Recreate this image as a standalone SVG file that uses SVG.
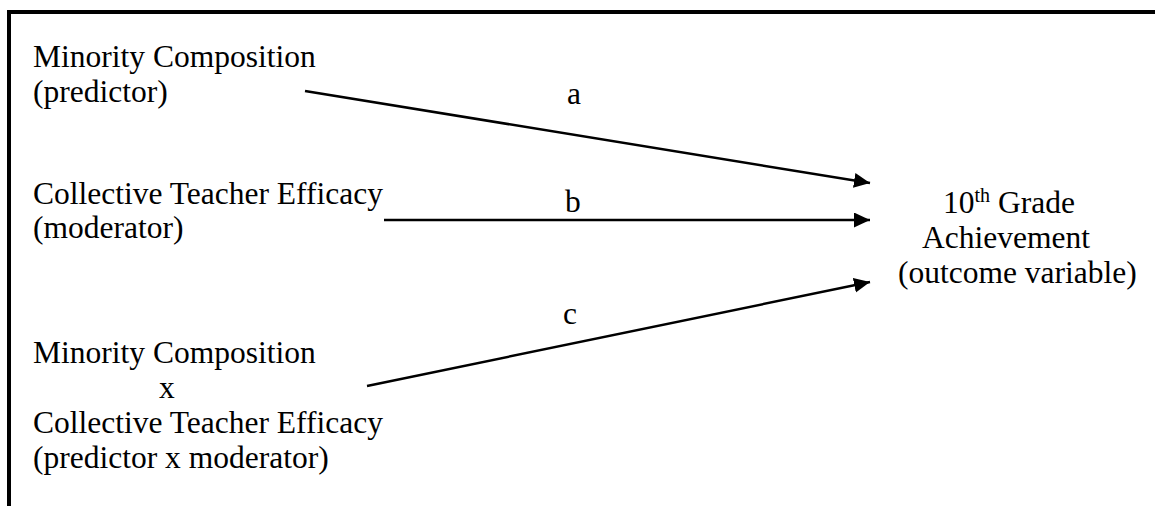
<svg xmlns="http://www.w3.org/2000/svg" width="1155" height="506" viewBox="0 0 1155 506">
<defs>
<style>
text{font-family:"Liberation Serif","Times New Roman",serif;font-size:31.5px;fill:#000}
.ln{stroke:#000;stroke-width:2.5;fill:none}
</style>
<marker id="ah" markerUnits="userSpaceOnUse" markerWidth="18" markerHeight="16" refX="16" refY="7.5" orient="auto" viewBox="0 0 18 16">
<path d="M0,0 L16,7.5 L0,15 Z" fill="#000"/>
</marker>
</defs>
<rect x="0" y="0" width="1155" height="506" fill="#fff"/>
<rect x="9" y="12" width="1200" height="600" fill="none" stroke="#000" stroke-width="4"/>
<g id="predictor">
<text x="33" y="67">Minority Composition</text>
<text x="33" y="102">(predictor)</text>
</g>
<g id="moderator">
<text x="33" y="204">Collective Teacher Efficacy</text>
<text x="33" y="238">(moderator)</text>
</g>
<g id="interaction">
<text x="33" y="363">Minority Composition</text>
<text x="159" y="398">x</text>
<text x="33" y="433">Collective Teacher Efficacy</text>
<text x="33" y="468">(predictor x moderator)</text>
</g>
<g id="outcome">
<text x="943" y="213">10<tspan font-size="20" dy="-11">th</tspan><tspan dy="11"> Grade</tspan></text>
<text x="922" y="248">Achievement</text>
<text x="898" y="283">(outcome variable)</text>
</g>
<g id="connectors">
<line class="ln" x1="305" y1="91" x2="870" y2="183" marker-end="url(#ah)"/>
<line class="ln" x1="384" y1="220" x2="870" y2="220" marker-end="url(#ah)"/>
<line class="ln" x1="367" y1="386" x2="870" y2="282" marker-end="url(#ah)"/>
<text x="567" y="104">a</text>
<text x="565" y="212">b</text>
<text x="563" y="324">c</text>
</g>
</svg>
